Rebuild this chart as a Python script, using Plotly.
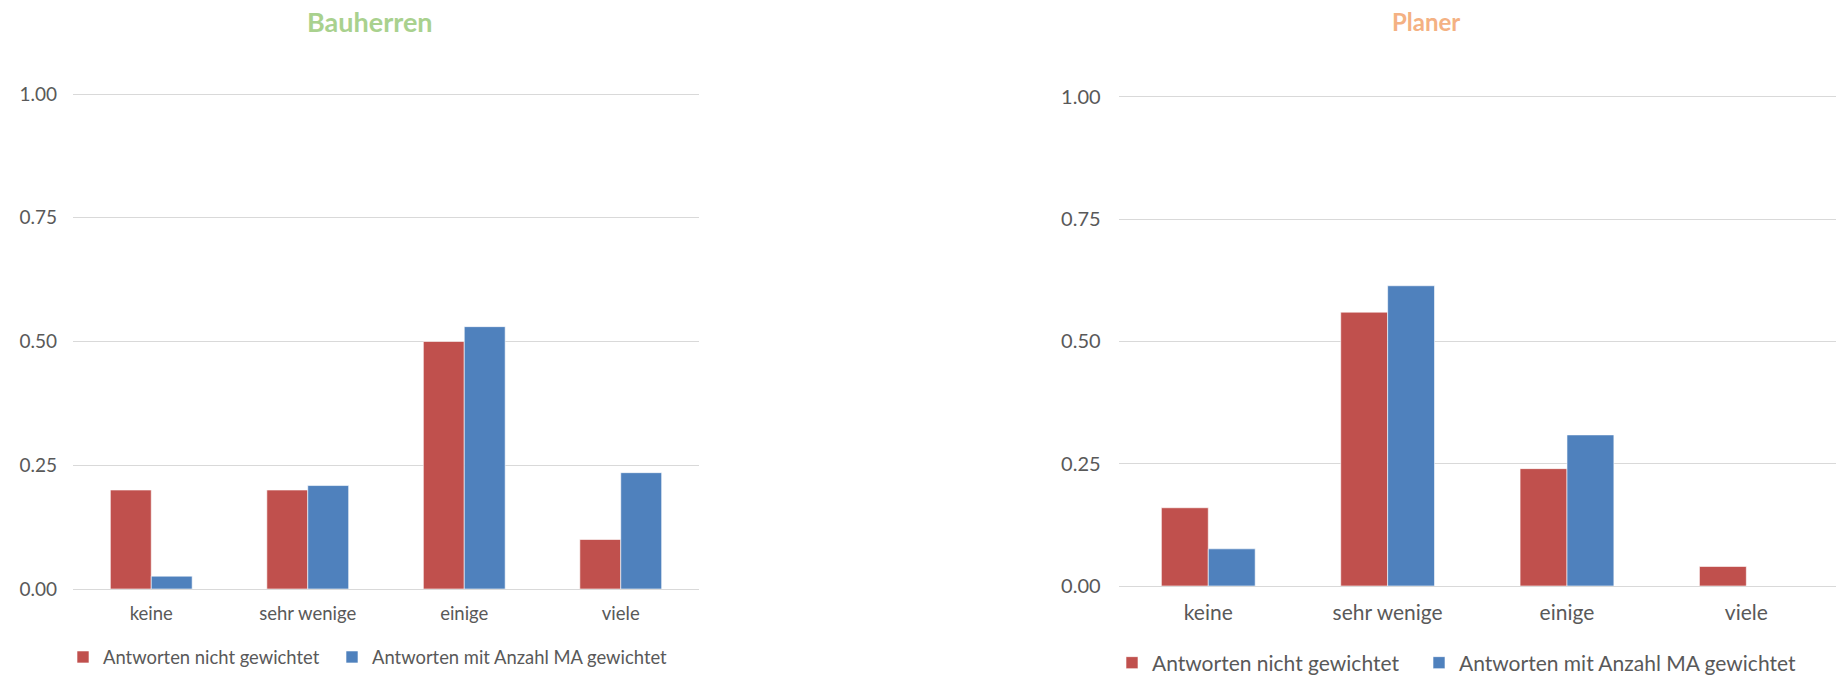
import plotly.graph_objects as go

# Kategorien und Anteile je Befragtengruppe
kategorien = ["keine", "sehr wenige", "einige", "viele"]

bauherren_ungewichtet = [0.20, 0.20, 0.50, 0.10]
bauherren_gewichtet = [0.026, 0.209, 0.530, 0.235]

planer_ungewichtet = [0.16, 0.56, 0.24, 0.04]
planer_gewichtet = [0.076, 0.614, 0.309, 0.0]

serien_namen = ["Antworten nicht gewichtet", "Antworten mit Anzahl MA gewichtet"]
farben = ["#C0504D", "#4F81BD"]

y_ticks = [0.0, 0.25, 0.5, 0.75, 1.0]
y_max = 1.006  # etwas Luft, damit die Gitterlinie bei 1.00 gezeichnet wird

FONT = "Lato, 'Open Sans', sans-serif"
TEXT_COLOR = "#595959"
GRID = "#D9D9D9"

W, H = 1840, 683

fig = go.Figure()

def add_pair(werte_a, werte_b, xa, ya, legend):
    for name, werte, farbe in zip(serien_namen, [werte_a, werte_b], farben):
        fig.add_trace(go.Bar(
            x=kategorien, y=werte, name=name,
            marker=dict(color=farbe, line=dict(color="rgba(255,255,255,0.6)", width=1)),
            xaxis=xa, yaxis=ya, legend=legend,
        ))
    # unsichtbarer Platzhalter am Ende der Legende, damit der letzte Eintrag
    # trotz fester Eintragsbreite vollständig sichtbar bleibt
    fig.add_trace(go.Scatter(
        x=[kategorien[0]], y=[0], mode="lines", name=" ",
        line=dict(color="rgba(0,0,0,0)", width=0),
        xaxis=xa, yaxis=ya, legend=legend, hoverinfo="skip",
    ))

add_pair(bauherren_ungewichtet, bauherren_gewichtet, "x", "y", "legend")
add_pair(planer_ungewichtet, planer_gewichtet, "x2", "y2", "legend2")

def xaxis(domain, anchor, size):
    return dict(
        domain=domain, anchor=anchor, type="category",
        showgrid=False, showline=True, linecolor=GRID, linewidth=1,
        ticks="", tickfont=dict(family=FONT, size=size, color=TEXT_COLOR),
        ticklabelstandoff=8, automargin=False,
    )

def yaxis(domain, anchor, size, standoff):
    return dict(
        domain=domain, anchor=anchor, range=[0, y_max],
        tickvals=y_ticks, tickformat=".2f",
        showgrid=True, gridcolor=GRID, gridwidth=1,
        zeroline=False, showline=False, ticks="",
        tickfont=dict(family=FONT, size=size, color=TEXT_COLOR),
        ticklabelstandoff=standoff, automargin=False,
    )

def legende(x, y, size, breite):
    return dict(
        orientation="h", x=x, y=y, xanchor="left", yanchor="middle",
        font=dict(family=FONT, size=size, color=TEXT_COLOR),
        entrywidth=breite, entrywidthmode="pixels",
        itemclick=False, bgcolor="rgba(0,0,0,0)", borderwidth=0,
        traceorder="normal",
    )

# Pixelgeometrie der beiden Diagrammflächen (Nulllinie, Höhe für 0..1)
links_null, links_hoehe = 589, 495
rechts_null, rechts_hoehe = 586, 489

fig.update_layout(
    width=W, height=H,
    margin=dict(l=0, r=0, t=0, b=0, autoexpand=False),
    paper_bgcolor="white", plot_bgcolor="white",
    barmode="group", bargap=0.477, bargroupgap=0,
    showlegend=True,
    xaxis=xaxis([73 / W, 699 / W], "y", 18.5),
    yaxis=yaxis([(H - links_null) / H, (H - links_null + links_hoehe * y_max) / H], "x", 19, 15),
    xaxis2=xaxis([1118.6 / W, 1836 / W], "y2", 21),
    yaxis2=yaxis([(H - rechts_null) / H, (H - rechts_null + rechts_hoehe * y_max) / H], "x2", 20, 17),
    legend=legende((77 - 14) / W, (H - 657) / H, 18.4, 224),
    legend2=legende((1126 - 14) / W, (H - 663) / H, 21, 262),
    annotations=[
        dict(text="<b>Bauherren</b>", x=370 / W, y=(H - 21) / H, xref="paper", yref="paper",
             xanchor="center", yanchor="middle", showarrow=False,
             font=dict(family=FONT, size=27, color="#A9D18E")),
        dict(text="<b>Planer</b>", x=1426 / W, y=(H - 21) / H, xref="paper", yref="paper",
             xanchor="center", yanchor="middle", showarrow=False,
             font=dict(family=FONT, size=24, color="#F4B183")),
    ],
)

fig.write_html("out.html")
